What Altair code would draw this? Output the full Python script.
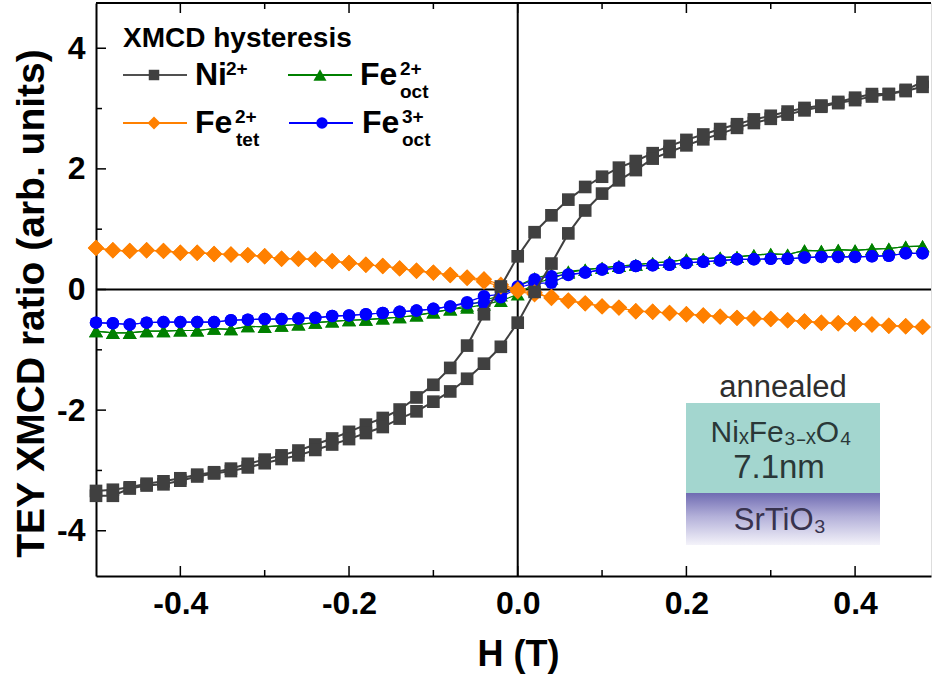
import altair as alt
import pandas as pd

# ---------------- data ----------------
H = [-0.50, -0.48, -0.46, -0.44, -0.42, -0.40, -0.38, -0.36, -0.34, -0.32,
     -0.30, -0.28, -0.26, -0.24, -0.22, -0.20, -0.18, -0.16, -0.14, -0.12,
     -0.10, -0.08, -0.06, -0.04, -0.02,
     0.00, 0.02, 0.04, 0.06, 0.08, 0.10, 0.12, 0.14, 0.16, 0.18,
     0.20, 0.22, 0.24, 0.26, 0.28, 0.30, 0.32, 0.34, 0.36, 0.38,
     0.40, 0.42, 0.44, 0.46, 0.48]

NI_DOWN = [-3.34, -3.32, -3.28, -3.22, -3.18, -3.13, -3.07, -3.03, -2.97, -2.89,
           -2.82, -2.75, -2.67, -2.57, -2.47, -2.36, -2.24, -2.13, -1.99, -1.79,
           -1.58, -1.30, -0.93, -0.41, 0.05,
           0.55, 0.95, 1.23, 1.49, 1.70, 1.87, 2.02, 2.13, 2.26, 2.38,
           2.48, 2.57, 2.66, 2.74, 2.82, 2.88, 2.95, 3.01, 3.05, 3.11,
           3.18, 3.24, 3.24, 3.31, 3.44]
NI_UP = [-3.42, -3.42, -3.30, -3.25, -3.23, -3.17, -3.10, -3.05, -3.01, -2.95,
         -2.88, -2.81, -2.75, -2.66, -2.57, -2.48, -2.38, -2.28, -2.14, -2.02,
         -1.86, -1.69, -1.48, -1.23, -0.95,
         -0.55, -0.04, 0.43, 0.93, 1.31, 1.59, 1.81, 1.98, 2.17, 2.28,
         2.39, 2.49, 2.58, 2.68, 2.76, 2.83, 2.90, 2.97, 3.03, 3.09,
         3.14, 3.20, 3.24, 3.29, 3.36]

FE2TET_DOWN = [0.69, 0.65, 0.64, 0.65, 0.64, 0.61, 0.61, 0.59, 0.58, 0.57,
               0.55, 0.51, 0.51, 0.50, 0.47, 0.44, 0.41, 0.39, 0.35, 0.31,
               0.28, 0.24, 0.20, 0.17, 0.08,
               0.00, -0.05, -0.14, -0.19, -0.23, -0.28, -0.30, -0.36, -0.37, -0.39,
               -0.41, -0.43, -0.45, -0.47, -0.48, -0.49, -0.51, -0.53, -0.55, -0.56,
               -0.57, -0.58, -0.60, -0.61, -0.62]
FE2TET_UP = [0.69, 0.65, 0.64, 0.65, 0.64, 0.61, 0.61, 0.59, 0.58, 0.57,
             0.55, 0.51, 0.51, 0.50, 0.47, 0.44, 0.41, 0.39, 0.35, 0.31,
             0.28, 0.24, 0.19, 0.13, 0.05,
             -0.03, -0.08, -0.12, -0.18, -0.23, -0.28, -0.30, -0.36, -0.37, -0.39,
             -0.41, -0.43, -0.45, -0.47, -0.48, -0.49, -0.51, -0.53, -0.55, -0.56,
             -0.57, -0.58, -0.60, -0.61, -0.62]

FE3OCT_DOWN = [-0.55, -0.56, -0.58, -0.55, -0.54, -0.54, -0.54, -0.54, -0.51, -0.50,
               -0.49, -0.49, -0.48, -0.47, -0.44, -0.43, -0.41, -0.39, -0.37, -0.35,
               -0.32, -0.28, -0.21, -0.11, -0.08,
               0.05, 0.17, 0.22, 0.25, 0.28, 0.33, 0.36, 0.39, 0.40, 0.41,
               0.44, 0.46, 0.48, 0.50, 0.50, 0.51, 0.51, 0.53, 0.54, 0.54,
               0.54, 0.55, 0.56, 0.60, 0.60]
FE3OCT_UP = [-0.55, -0.56, -0.58, -0.55, -0.54, -0.54, -0.54, -0.54, -0.51, -0.50,
             -0.49, -0.49, -0.48, -0.47, -0.44, -0.43, -0.41, -0.39, -0.37, -0.35,
             -0.32, -0.28, -0.23, -0.22, -0.13,
             0.03, 0.10, 0.11, 0.24, 0.28, 0.33, 0.36, 0.39, 0.40, 0.41,
             0.44, 0.46, 0.48, 0.50, 0.50, 0.51, 0.51, 0.53, 0.54, 0.54,
             0.54, 0.55, 0.56, 0.60, 0.60]

FE2OCT_DOWN = [-0.69, -0.72, -0.72, -0.69, -0.69, -0.68, -0.68, -0.65, -0.66, -0.61,
               -0.62, -0.60, -0.58, -0.55, -0.53, -0.51, -0.50, -0.48, -0.46, -0.43,
               -0.38, -0.33, -0.27, -0.18, -0.10,
               0.06, 0.19, 0.25, 0.30, 0.33, 0.36, 0.39, 0.41, 0.44, 0.46,
               0.50, 0.51, 0.53, 0.54, 0.57, 0.59, 0.58, 0.65, 0.64, 0.66,
               0.65, 0.67, 0.68, 0.71, 0.72]
FE2OCT_UP = [-0.69, -0.72, -0.72, -0.69, -0.69, -0.68, -0.68, -0.65, -0.66, -0.61,
             -0.62, -0.60, -0.58, -0.55, -0.53, -0.51, -0.50, -0.48, -0.46, -0.43,
             -0.38, -0.33, -0.30, -0.25, -0.19,
             -0.08, 0.10, 0.18, 0.28, 0.33, 0.36, 0.39, 0.41, 0.44, 0.46,
             0.50, 0.51, 0.53, 0.54, 0.57, 0.59, 0.58, 0.65, 0.64, 0.66,
             0.65, 0.67, 0.68, 0.71, 0.72]

X_MAJOR = [-0.4, -0.2, 0.0, 0.2, 0.4]
X_MINOR = [-0.3, -0.1, 0.1, 0.3]
Y_MAJOR = [-4, -2, 0, 2, 4]
Y_MINOR = [-3, -1, 1, 3]
ZERO = [0]

# ---------------- layout ----------------
W, HT = 835, 573
PAD_L, PAD_T = 96, 3
FONT = "Liberation Sans"

xs = alt.Scale(domain=[-0.5, 0.49], nice=False, zero=False)
ys = alt.Scale(domain=[-4.75, 4.75], nice=False, zero=False)

xaxis = alt.Axis(
    values=X_MAJOR,
    labelExpr="datum.value < 0 ? '-' + format(-datum.value, '.1f') : format(datum.value, '.1f')",
    labelFont=FONT, labelFontWeight="bold", labelFontSize=32, labelColor="black",
    labelPadding=12, labelFlush=False, labelOverlap=False,
    ticks=False, tickSize=0, grid=False,
    domain=True, domainColor="black", domainWidth=2,
    title="H (T)", titleFont=FONT, titleFontWeight="bold", titleFontSize=36,
    titleColor="black", titleX=422, titleY=89, titleAlign="center",
    titleBaseline="alphabetic",
)
yaxis = alt.Axis(
    values=Y_MAJOR,
    labelExpr="datum.value < 0 ? '-' + format(-datum.value, 'd') : format(datum.value, 'd')",
    labelFont=FONT, labelFontWeight="bold", labelFontSize=32, labelColor="black",
    labelPadding=11, labelFlush=False, labelOverlap=False,
    ticks=False, tickSize=0, grid=False,
    domain=True, domainColor="black", domainWidth=2,
    title="TEY XMCD ratio (arb. units)", titleFont=FONT, titleFontWeight="bold",
    titleFontSize=39, titleColor="black", titleX=-65, titleY=300,
    titleAlign="center", titleBaseline="middle", titleAngle=270,
)


def X(field):
    return alt.X(field, scale=xs, axis=xaxis)


def Y(field):
    return alt.Y(field, scale=ys, axis=yaxis)


def series(down, up, color, shape, size, lw):
    df = pd.DataFrame({"H": H + H, "v": down + up,
                       "branch": ["down"] * len(H) + ["up"] * len(H)})
    base = alt.Chart(df)
    line = base.mark_line(color=color, strokeWidth=lw).encode(
        x=X("H:Q"), y=Y("v:Q"), detail="branch:N")
    pts = base.mark_point(shape=shape, filled=True, color=color, opacity=1,
                          size=size, strokeWidth=0).encode(
        x=X("H:Q"), y=Y("v:Q"), detail="branch:N")
    return [line, pts]


DUMMY = pd.DataFrame({"d": [0]})


def txt(s, x, y, size, weight="bold", align="left", color="black", baseline="alphabetic"):
    return alt.Chart(DUMMY).mark_text(
        text=s, font=FONT, fontSize=size, fontWeight=weight, align=align,
        baseline=baseline, color=color
    ).encode(x=alt.value(x - PAD_L), y=alt.value(y - PAD_T))


def hline(x1, x2, y, color, width):
    return alt.Chart(DUMMY).mark_rule(color=color, strokeWidth=width).encode(
        x=alt.value(x1 - PAD_L), x2=alt.value(x2 - PAD_L), y=alt.value(y - PAD_T))


def marker(x, y, shape, color, size):
    return alt.Chart(DUMMY).mark_point(shape=shape, filled=True, color=color,
                                       opacity=1, size=size, strokeWidth=0).encode(
        x=alt.value(x - PAD_L), y=alt.value(y - PAD_T))


def rect(x1, x2, y1, y2, fill):
    return alt.Chart(DUMMY).mark_rect(fill=fill).encode(
        x=alt.value(x1 - PAD_L), x2=alt.value(x2 - PAD_L),
        y=alt.value(y1 - PAD_T), y2=alt.value(y2 - PAD_T))


layers = []

# zero lines
zdf = pd.DataFrame({"z": ZERO})
layers.append(alt.Chart(zdf).mark_rule(color="black", strokeWidth=2).encode(y=Y("z:Q")))
layers.append(alt.Chart(zdf).mark_rule(color="black", strokeWidth=2).encode(x=X("z:Q")))

# inward ticks
for vals, ln in [(X_MAJOR, 10), (X_MINOR, 6)]:
    tdf = pd.DataFrame({"t": vals})
    layers.append(alt.Chart(tdf).mark_rule(color="black", strokeWidth=1.5).encode(
        x=X("t:Q"), y=alt.value(HT), y2=alt.value(HT - ln)))
    layers.append(alt.Chart(tdf).mark_rule(color="black", strokeWidth=1.5).encode(
        x=X("t:Q"), y=alt.value(0), y2=alt.value(ln)))
for vals, ln in [(Y_MAJOR, 10), (Y_MINOR, 6)]:
    tdf = pd.DataFrame({"t": vals})
    layers.append(alt.Chart(tdf).mark_rule(color="black", strokeWidth=1.5).encode(
        y=Y("t:Q"), x=alt.value(0), x2=alt.value(ln)))

# top frame line
layers.append(alt.Chart(DUMMY).mark_rule(color="black", strokeWidth=2).encode(
    x=alt.value(0), x2=alt.value(W), y=alt.value(0)))

# data series (drawing order: green, blue, orange, grey)
layers += series(FE2OCT_DOWN, FE2OCT_UP, "#008000", "triangle-up", 196, 1.2)
layers += series(FE3OCT_DOWN, FE3OCT_UP, "#0000ff", "circle", 156, 1.2)
layers += series(FE2TET_DOWN, FE2TET_UP, "#ff8000", "diamond", 270, 1.2)
layers += series(NI_DOWN, NI_UP, "#404040", "square", 160, 2)

# legend
layers.append(txt("XMCD hysteresis", 123, 47, 28))
layers.append(hline(123, 187, 75, "#505050", 2))
layers.append(marker(154, 75, "square", "#404040", 110))
layers.append(txt("Ni", 195, 85, 32))
layers.append(txt("2+", 226, 75, 19))
layers.append(hline(288, 352, 75, "#008000", 2))
layers.append(marker(320, 75, "triangle-up", "#008000", 170))
layers.append(txt("Fe", 360, 85, 32))
layers.append(txt("2+", 400, 75, 19))
layers.append(txt("oct", 400, 98, 19))
layers.append(hline(123, 187, 123, "#ff8000", 2))
layers.append(marker(154, 123, "diamond", "#ff8000", 170))
layers.append(txt("Fe", 195, 133, 32))
layers.append(txt("2+", 235, 123, 19))
layers.append(txt("tet", 236, 146, 19))
layers.append(hline(289, 353, 123, "#0000ff", 2))
layers.append(marker(322, 123, "circle", "#0000ff", 130))
layers.append(txt("Fe", 362, 133, 32))
layers.append(txt("3+", 402, 123, 19))
layers.append(txt("oct", 402, 146, 19))

# inset (sample sketch)
purple = alt.LinearGradient(
    gradient="linear", x1=0, x2=0, y1=0, y2=1,
    stops=[alt.GradientStop(color="#6f6bb2", offset=0),
           alt.GradientStop(color="#b3b0d9", offset=0.45),
           alt.GradientStop(color="#f4f3fa", offset=1)])
layers.append(rect(686, 880, 370, 403, "#ffffff"))
layers.append(rect(686, 880, 403, 493, "#a3d6cf"))
layers.append(rect(686, 880, 493, 545, purple))
layers.append(txt("annealed", 783, 397, 31, weight="normal", align="center", color="#2e2e2e"))
layers.append(txt("Ni\u2093Fe\u2083\u208b\u2093O\u2084", 781, 442, 30, weight="normal",
                  align="center", color="#2a3838"))
layers.append(txt("7.1nm", 779, 478, 33, weight="normal", align="center", color="#2a3838"))
layers.append(txt("SrTiO\u2083", 780, 530, 31, weight="normal", align="center", color="#38334e"))

chart = alt.layer(*layers).properties(
    width=W, height=HT,
    padding={"left": PAD_L, "top": PAD_T, "right": 1, "bottom": 99},
    autosize="none",
).configure_view(stroke=None).configure(background="white")

chart.save("out.html", embed_options={"renderer": "svg", "actions": False})
